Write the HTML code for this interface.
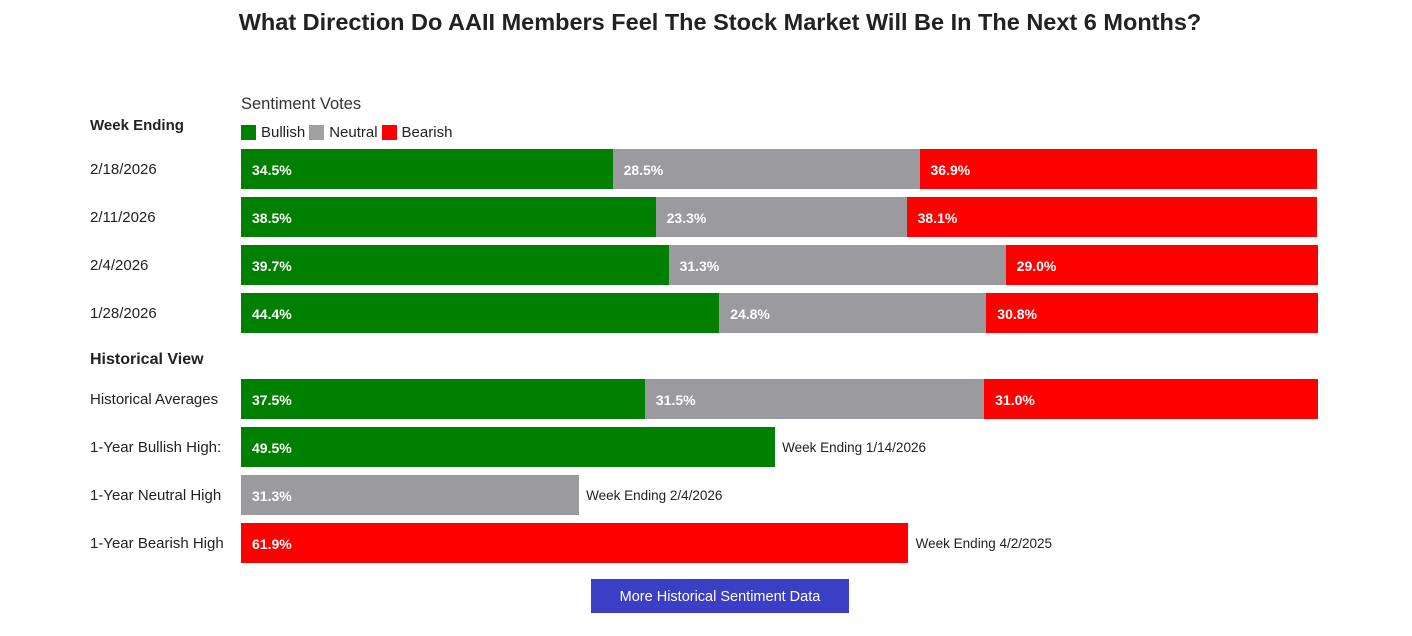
<!DOCTYPE html>
<html><head><meta charset="utf-8"><style>
body{margin:0;width:1412px;height:636px;background:#fff;font-family:"Liberation Sans",sans-serif;position:relative;overflow:hidden;color:#222}
.abs{position:absolute}
.lbl{position:absolute;left:90px;font-size:15px;color:#222}
.bar{position:absolute;height:40px}
.bv{position:absolute;color:#fff;font-weight:bold;font-size:14px;line-height:40px;padding-left:11px;box-sizing:border-box;white-space:nowrap}
.note{position:absolute;font-size:13.5px;color:#222;line-height:40px}
</style></head><body>
<div class="abs" style="left:0;width:1440px;top:9px;text-align:center;font-size:23.5px;font-weight:bold;color:#222">What Direction Do AAII Members Feel The Stock Market Will Be In The Next 6 Months?</div>
<div class="abs" style="left:241px;top:95px;font-size:16.5px;color:#333">Sentiment Votes</div>
<div class="abs" style="left:241px;top:124px;font-size:15px;color:#222;display:flex;align-items:center">
<span style="width:15px;height:15px;background:#008000;display:inline-block;margin-right:5px"></span><span>Bullish</span>
<span style="width:15px;height:15px;background:#a0a0a0;display:inline-block;margin:0 5px 0 4px"></span><span>Neutral</span>
<span style="width:15px;height:15px;background:#ff0000;display:inline-block;margin:0 5px 0 4px"></span><span>Bearish</span>
</div>
<div class="lbl" style="top:117px;font-weight:bold;font-size:15px">Week Ending</div>
<div class="lbl" style="top:351px;font-weight:bold;font-size:16px">Historical View</div>
<div id="chart"></div>
<div class="abs" style="left:591px;top:579px;width:258px;height:34px;background:#3a3fc6;color:#fff;font-size:14.5px;text-align:center;line-height:37px">More Historical Sentiment Data</div>
<script>
const weeks=["2/18/2026","2/11/2026","2/4/2026","1/28/2026"];
const bullish=[34.5,38.5,39.7,44.4];
const neutral=[28.5,23.3,31.3,24.8];
const bearish=[36.9,38.1,29.0,30.8];
const histLabels=["Historical Averages","1-Year Bullish High:","1-Year Neutral High","1-Year Bearish High"];
const histAvg=[37.5,31.5,31.0];
const highs=[49.5,31.3,61.9];
const highNotes=["Week Ending 1/14/2026","Week Ending 2/4/2026","Week Ending 4/2/2025"];
const colors=["#008000","#9b9a9e","#ff0000"];
const X0=241,W=1077;
const x=v=>v/100*W;
const c=document.getElementById('chart');
function seg(top,left,val,col,name){
 const d=document.createElement('div');d.className='bar';
 
 
 d.style.cssText=`left:${X0+left}px;top:${top}px;width:${x(val)+0.5}px;background:${col}`;
 const t=document.createElement('div');t.className='bv';t.textContent=val.toFixed(1)+'%';
 t.style.top='1px';
 
 
 d.appendChild(t);c.appendChild(d);
}
function label(top,txt,name){
 const l=document.createElement('div');l.className='lbl';l.style.top=(top+12)+'px';l.textContent=txt;
 
 
 c.appendChild(l);
}
weeks.forEach((w,i)=>{
 const top=149+i*48;
 label(top,w,'week-label');
 seg(top,0,bullish[i],colors[0],'bar-bullish');
 seg(top,x(bullish[i]),neutral[i],colors[1],'bar-neutral');
 seg(top,x(bullish[i]+neutral[i]),bearish[i],colors[2],'bar-bearish');
});
histLabels.forEach((h,i)=>{
 const top=379+i*48;
 label(top,h,'historical-label');
 if(i===0){
  seg(top,0,histAvg[0],colors[0],'bar-avg-bullish');
  seg(top,x(histAvg[0]),histAvg[1],colors[1],'bar-avg-neutral');
  seg(top,x(histAvg[0]+histAvg[1]),histAvg[2],colors[2],'bar-avg-bearish');
 }else{
  const k=i-1;
  seg(top,0,highs[k],colors[k],'bar-high');
  const n=document.createElement('div');n.className='note';
  
  
  n.style.cssText=`left:${X0+x(highs[k])+8}px;top:${top+1}px`;n.textContent=highNotes[k];c.appendChild(n);
 }
});
</script>
</body></html>
